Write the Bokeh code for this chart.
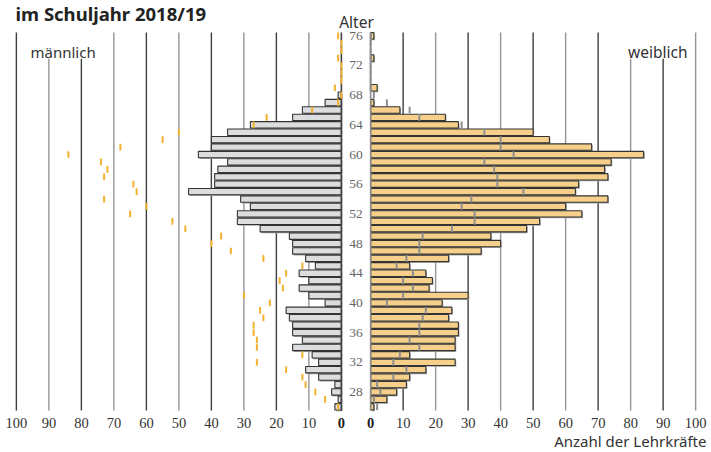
from bokeh.plotting import figure
from bokeh.models import Range1d
from bokeh.core.properties import value
from bokeh.embed import file_html
from bokeh.resources import INLINE

# ---------------- data ----------------
ages = list(range(76, 25, -1))  # 76 ... 26
male = [0, 0, 0, 0, 0, 0, 0, 0, 1, 5,
        12, 15, 28, 35, 40, 40, 44, 35, 38, 39,
        39, 47, 31, 28, 32, 32, 25, 16, 15, 15,
        11, 8, 13, 10, 13, 10, 5, 17, 16, 15,
        15, 12, 15, 9, 7, 11, 7, 2, 3, 1, 2]
female = [1, 0, 0, 1, 0, 0, 0, 2, 0, 1,
          9, 23, 27, 50, 55, 68, 84, 74, 72, 73,
          64, 63, 73, 60, 65, 52, 48, 37, 40, 34,
          24, 12, 17, 19, 18, 30, 22, 25, 24, 27,
          27, 26, 26, 12, 26, 17, 12, 11, 8, 5, 1]
age_labels = [76, 72, 68, 64, 60, 56, 52, 48, 44, 40, 36, 32, 28]
tick_values = [0, 10, 20, 30, 40, 50, 60, 70, 80, 90, 100]
short_grid_values = [80, 90]   # lines that start below the gender labels

title_text = "im Schuljahr 2018/19"
x_title = "Anzahl der Lehrkräfte"
y_title = "Alter"
left_label = "männlich"
right_label = "weiblich"

# ---------------- layout helpers ----------------
W, H = 711, 452
PX_PER_UNIT = 3.25
CENTER_X = 355.5     # canvas px of the age column centre
GAP = 4.5            # half gap between the two zero lines, in value units
ROW = 7.42           # px per year
TOP_Y = 35.3         # canvas px of the centre of the top age row
TOP_AGE = ages[0]


def dx(px):
    return (px - CENTER_X) / PX_PER_UNIT


def dy(py):
    return TOP_AGE - (py - TOP_Y) / ROW


p = figure(width=W, height=H,
           x_range=Range1d(dx(0), dx(W)),
           y_range=Range1d(dy(H), dy(0)),
           output_backend="svg", toolbar_location=None,
           x_axis_location=None, y_axis_location=None,
           min_border=0, min_border_left=0, min_border_right=0,
           min_border_top=0, min_border_bottom=0)
p.grid.visible = False
p.outline_line_color = None
p.background_fill_color = "white"

NARROW = value("Liberation Sans Narrow")
SANS = value("Noto Sans")

y_bottom = min(ages) - 0.5
y_top = max(ages) + 0.45
y_short = dy(58.3)

# ---------------- grid lines ----------------
gx, gy0, gy1, gc = [], [], [], []
for v in tick_values[1:]:
    k = v // 10
    top = y_short if v in short_grid_values else y_top
    gx.append(-(v + GAP)); gy0.append(y_bottom); gy1.append(top)
    gc.append("#3f3f3f" if k % 2 == 0 else "#959595")
    gx.append(v + GAP); gy0.append(y_bottom); gy1.append(top)
    gc.append("#3f3f3f" if k % 2 == 1 else "#959595")
p.segment(x0=gx, x1=gx, y0=gy0, y1=gy1, line_color=gc, line_width=1.4)

# ---------------- bars ----------------
H_BAR = 0.86
m_age = [a for a, v in zip(ages, male) if v > 0]
m_val = [v for v in male if v > 0]
f_age = [a for a, v in zip(ages, female) if v > 0]
f_val = [v for v in female if v > 0]

SH_X, SH_Y = 0.35, 0.17
p.hbar(y=[a - SH_Y for a in m_age], left=[-(v + GAP) + SH_X for v in m_val],
       right=[-GAP + SH_X] * len(m_val), height=H_BAR,
       fill_color="#a6a6a6", line_color=None)
p.hbar(y=[a - SH_Y for a in f_age], left=[GAP + SH_X] * len(f_val),
       right=[v + GAP + SH_X for v in f_val], height=H_BAR,
       fill_color="#a6a6a6", line_color=None)
p.hbar(y=m_age, left=[-(v + GAP) for v in m_val], right=[-GAP] * len(m_val),
       height=H_BAR, fill_color="#dcdddf", line_color="#333333", line_width=1.1)
p.hbar(y=f_age, left=[GAP] * len(f_val), right=[v + GAP for v in f_val],
       height=H_BAR, fill_color="#f6d08a", line_color="#333333", line_width=1.1)

# zero axis lines
p.segment(x0=[-GAP, GAP], x1=[-GAP, GAP], y0=[y_bottom] * 2, y1=[y_top] * 2,
          line_color=["#444444", "#8a8a8a"], line_width=1.6)

# ---------------- comparison ticks ----------------
TK = 0.45
p.segment(x0=[-(v + GAP) for v in female], x1=[-(v + GAP) for v in female],
          y0=[a - TK for a in ages], y1=[a + TK for a in ages],
          line_color="#f2b12e", line_width=2)
p.segment(x0=[v + GAP for v in male], x1=[v + GAP for v in male],
          y0=[a - TK for a in ages], y1=[a + TK for a in ages],
          line_color="#8e8e8e", line_width=2)

# ---------------- texts ----------------
p.text(x=[0] * len(age_labels), y=age_labels, text=[str(a) for a in age_labels],
       text_font=NARROW, text_font_size="13.5px", text_color="#666666",
       text_align="center", text_baseline="middle")

y_tick = dy(422)
nz = [v for v in tick_values if v != 0]
p.text(x=[-(v + GAP) for v in nz] + [v + GAP for v in nz],
       y=[y_tick] * (2 * len(nz)), text=[str(v) for v in nz] * 2,
       text_font=NARROW, text_font_size="14.5px", text_color="#333333",
       text_align="center", text_baseline="middle")
p.text(x=[-GAP, GAP], y=[y_tick] * 2, text=["0", "0"],
       text_font=NARROW, text_font_size="14.5px", text_font_style="bold",
       text_color="#222222", text_align="center", text_baseline="middle")

p.text(x=[dx(30)], y=[dy(51)], text=[left_label], text_font=SANS,
       text_font_size="15px", text_color="#333333", text_align="left",
       text_baseline="alphabetic")
p.text(x=[dx(687)], y=[dy(51)], text=[right_label], text_font=SANS,
       text_font_size="15.5px", text_color="#333333", text_align="right",
       text_baseline="alphabetic")
p.text(x=[dx(356)], y=[dy(21.5)], text=[y_title], text_font=SANS,
       text_font_size="15.5px", text_color="#333333", text_align="center",
       text_baseline="alphabetic")
p.text(x=[dx(706)], y=[dy(440.5)], text=[x_title], text_font=SANS,
       text_font_size="15px", text_color="#333333", text_align="right",
       text_baseline="alphabetic")
p.text(x=[dx(15)], y=[dy(13)], text=[title_text], text_font=SANS,
       text_font_size="18.5px", text_font_style="bold", text_color="#222222",
       text_align="left", text_baseline="alphabetic")

open("out.html", "w").write(file_html(p, INLINE))
